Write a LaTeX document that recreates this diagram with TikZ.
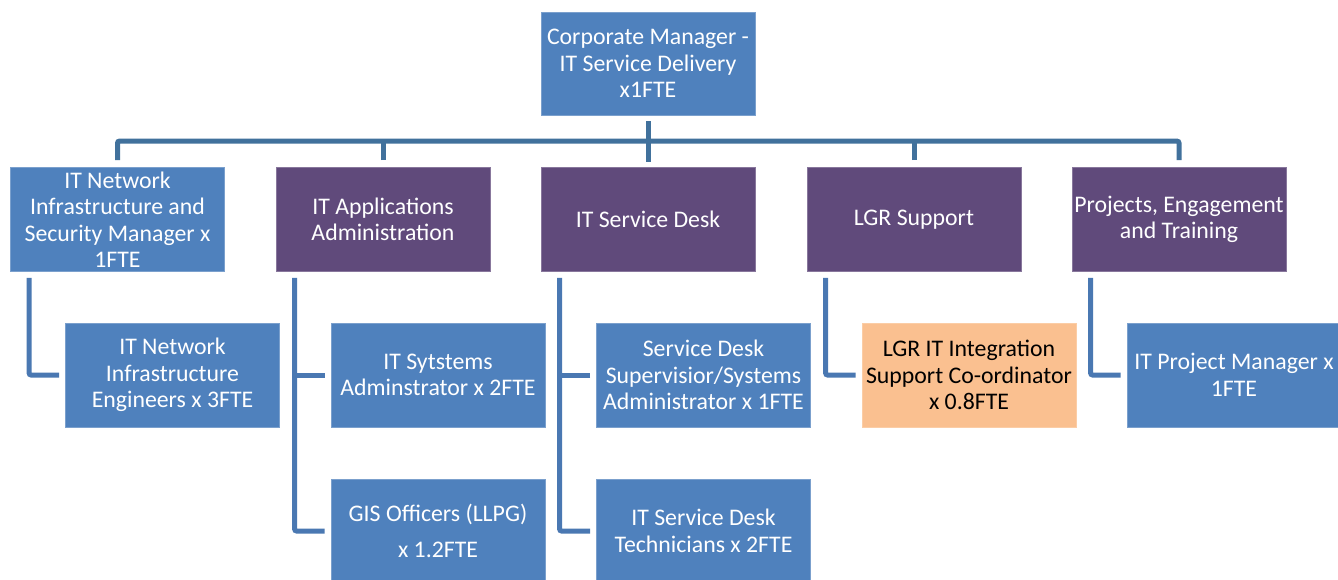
\documentclass[tikz,border=0pt]{standalone}
\usepackage{fontspec}
\setmainfont{Carlito}
\definecolor{bbox}{HTML}{4F81BD}
\definecolor{pbox}{HTML}{604A7B}
\definecolor{obox}{HTML}{FAC090}
\definecolor{bline}{HTML}{41719C}
\definecolor{lline}{HTML}{4A78B2}
\begin{document}
\begin{tikzpicture}[x=1pt,y=-1pt,
  box/.style={rectangle, minimum width=214pt, minimum height=104pt, inner sep=0pt, align=center,
    font=\fontsize{23.8}{26.5}\selectfont, text=white},
  bluebox/.style={box, fill=bbox, draw=bbox!75!white, line width=0.8pt},
  purplebox/.style={box, fill=pbox, draw=pbox!75!white, line width=0.8pt},
  orangebox/.style={box, fill=obox, draw=obox!80!white, line width=0.8pt, text=black},
  conn/.style={draw=bline, line width=5pt},
  subconn/.style={draw=lline, line width=5pt, rounded corners=2pt}
]
\useasboundingbox[fill=white] (0,0) rectangle (1338,579);

\node[bluebox, minimum height=103pt] (top) at (648,63.5) {Corporate Manager -\\IT Service Delivery\\x1FTE};

\node[bluebox]   (n1) at (117.5,219.5) {IT Network\\Infrastructure and\\Security Manager x\\1FTE};
\node[purplebox] (n2) at (383,219.5) {IT Applications\\Administration};
\node[purplebox] (n3) at (648,219.5) {IT Service Desk};
\node[purplebox] (n4) at (914,219.5) {LGR Support};
\node[purplebox] (n5) at (1179,219.5) {Projects, Engagement\\and Training};

\node[bluebox]   (m1)  at (172.5,375) {IT Network\\Infrastructure\\Engineers x 3FTE};
\node[bluebox]   (m2a) at (438,375) {IT Sytstems\\Adminstrator x 2FTE};
\node[bluebox]   (m2b) at (438,531) {GIS Officers (LLPG)\\[9pt]x 1.2FTE};
\node[bluebox]   (m3a) at (703.5,375) {Service Desk\\Supervisior/Systems\\Administrator x 1FTE};
\node[bluebox]   (m3b) at (703.5,531) {IT Service Desk\\Technicians x 2FTE};
\node[orangebox] (m4)  at (969,375) {LGR IT Integration\\Support Co-ordinator\\x 0.8FTE};
\node[bluebox]   (m5)  at (1234,375) {IT Project Manager x\\1FTE};

% top bus
\draw[conn] ([yshift=-6pt]top.south) -- ([yshift=-47pt]top.south);
\draw[conn, rounded corners=2pt] ([yshift=7pt]n1.north) -- ([yshift=26pt]n1.north) -- ([yshift=26pt]n5.north) -- ([yshift=7pt]n5.north);
\draw[conn] ([yshift=7pt]n2.north) -- ([yshift=26pt]n2.north);
\draw[conn] ([yshift=7pt]n4.north) -- ([yshift=26pt]n4.north);

% spine coordinates
\coordinate (s1) at ([xshift=19pt,yshift=-6pt]n1.south west);
\coordinate (s2) at ([xshift=19pt,yshift=-6pt]n2.south west);
\coordinate (s3) at ([xshift=19pt,yshift=-6pt]n3.south west);
\coordinate (s4) at ([xshift=19pt,yshift=-6pt]n4.south west);
\coordinate (s5) at ([xshift=19pt,yshift=-6pt]n5.south west);

% sub connectors
\draw[subconn] (s1) |- ([xshift=-6pt]m1.west);
\draw[subconn] (s2) |- ([xshift=-6pt]m2b.west);
\draw[subconn] ([xshift=-6pt]m2a.west) -- (s2 |- m2a.west);
\draw[subconn] (s3) |- ([xshift=-6pt]m3b.west);
\draw[subconn] ([xshift=-6pt]m3a.west) -- (s3 |- m3a.west);
\draw[subconn] (s4) |- ([xshift=-6pt]m4.west);
\draw[subconn] (s5) |- ([xshift=-6pt]m5.west);
\end{tikzpicture}
\end{document}
